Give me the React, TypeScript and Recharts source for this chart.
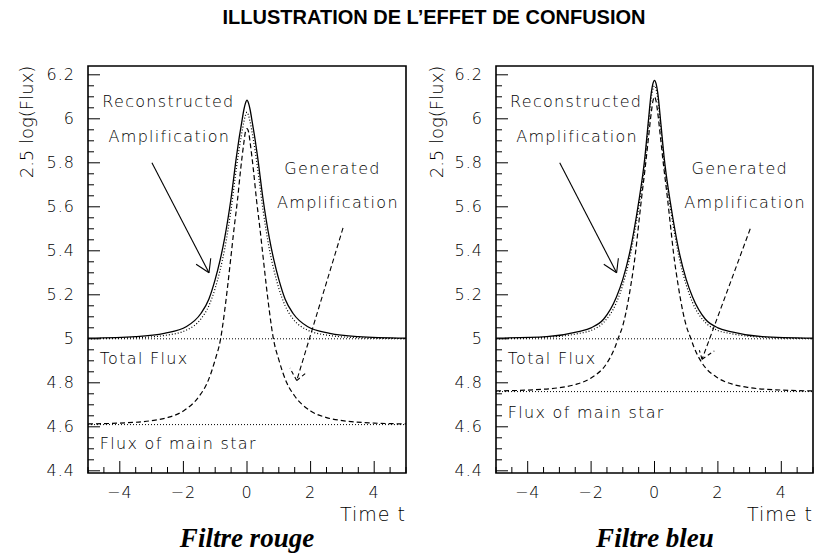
import React from 'react';
import { LineChart, Line, XAxis, YAxis, ReferenceLine, ReferenceDot, ReferenceArea } from 'recharts';

// ---------- texts ----------
const TITLE = 'ILLUSTRATION DE L’EFFET DE CONFUSION';
const Y_TITLE = '2.5 log(Flux)';
const X_TITLE = 'Time t';
const PANEL_NAMES = ['Filtre rouge', 'Filtre bleu'];
const LABEL_RECON = ['Reconstructed', 'Amplification'];
const LABEL_GEN = ['Generated', 'Amplification'];
const LABEL_TOTAL = 'Total Flux';
const LABEL_MAIN = 'Flux of main star';

// ---------- axes ----------
const X_DOMAIN = [-5, 5];
const Y_DOMAIN = [4.39, 6.24];
const X_MAJOR = [-4, -2, 0, 2, 4];
const X_MAJOR_LABELS = ['−4', '−2', '0', '2', '4'];
const X_MINOR_STEP = 0.5;
const Y_MAJOR = [4.4, 4.6, 4.8, 5, 5.2, 5.4, 5.6, 5.8, 6, 6.2];
const Y_MAJOR_LABELS = ['4.4', '4.6', '4.8', '5', '5.2', '5.4', '5.6', '5.8', '6', '6.2'];
const Y_MINOR_STEP = 0.05;

// ---------- red filter (half curves, symmetric in t) ----------
const RED_SOLID_T = [0, 0.05, 0.1, 0.17, 0.25, 0.33, 0.5, 0.7, 0.85, 1.0, 1.2, 1.45, 1.9, 2.6, 3.5, 5];
const RED_SOLID_V = [6.085, 6.07, 6.04, 5.98, 5.91, 5.83, 5.64, 5.46, 5.355, 5.27, 5.18, 5.115, 5.056, 5.025, 5.01, 5.003];
const RED_DOTTED_T = [0, 0.05, 0.1, 0.17, 0.25, 0.33, 0.5, 0.7, 0.85, 1.0, 1.2, 1.45, 1.9, 2.6, 3.5, 5];
const RED_DOTTED_V = [6.03, 6.015, 5.985, 5.93, 5.86, 5.78, 5.59, 5.41, 5.31, 5.23, 5.15, 5.09, 5.04, 5.015, 5.005, 5.001];
const RED_DASHED_T = [0, 0.05, 0.1, 0.2, 0.3, 0.4, 0.5, 0.6, 0.7, 0.83, 1.0, 1.25, 1.5, 2, 2.5, 3, 4, 5];
const RED_DASHED_V = [5.955, 5.94, 5.89, 5.77, 5.63, 5.51, 5.38, 5.25, 5.13, 5.0, 4.905, 4.8, 4.74, 4.672, 4.642, 4.628, 4.617, 4.613];
const RED_TOTAL_FLUX = 5.0;
const RED_MAIN_FLUX = 4.61;

// ---------- blue filter ----------
const BLUE_SOLID_T = [0, 0.05, 0.1, 0.2, 0.3, 0.5, 0.65, 0.8, 1.0, 1.2, 1.6, 2.0, 2.4, 3.4, 5];
const BLUE_SOLID_V = [6.175, 6.16, 6.12, 5.98, 5.83, 5.62, 5.49, 5.38, 5.27, 5.19, 5.09, 5.05, 5.033, 5.01, 5.003];
const BLUE_DOTTED_T = [0, 0.05, 0.1, 0.2, 0.3, 0.5, 0.65, 0.8, 1.0, 1.2, 1.6, 2.0, 2.4, 3.4, 5];
const BLUE_DOTTED_V = [6.15, 6.135, 6.095, 5.955, 5.805, 5.595, 5.465, 5.355, 5.245, 5.165, 5.075, 5.038, 5.024, 5.007, 5.001];
const BLUE_DASHED_T = [0, 0.05, 0.1, 0.2, 0.3, 0.4, 0.5, 0.6, 0.75, 0.9, 1.0, 1.15, 1.25, 1.5, 2, 2.5, 3, 4, 5];
const BLUE_DASHED_V = [6.1, 6.08, 6.03, 5.9, 5.77, 5.65, 5.52, 5.39, 5.24, 5.12, 5.06, 5.0, 4.96, 4.89, 4.822, 4.792, 4.778, 4.767, 4.763];
const BLUE_TOTAL_FLUX = 5.0;
const BLUE_MAIN_FLUX = 4.76;

// ---------- annotation anchors (data coordinates) ----------
const RECON_TEXT_POS = [{ t: -2.47, v: 6.081 }, { t: -2.44, v: 5.922 }];
const GEN_TEXT_POS = [{ t: 2.69, v: 5.776 }, { t: 2.86, v: 5.622 }];
const TOTAL_TEXT_POS = { t: -4.63, v: 4.913 };
const RED_MAIN_TEXT_POS = { t: -4.63, v: 4.526 };
const BLUE_MAIN_TEXT_POS = { t: -4.63, v: 4.667 };

const RECON_ARROW = [{ t: -2.99, v: 5.8 }, { t: -1.195, v: 5.3 }];
const RECON_HEAD = [{ t: -1.14, v: 5.366 }, { t: -1.6, v: 5.339 }];
const RED_GEN_ARROW = [{ t: 3.02, v: 5.504 }, { t: 1.563, v: 4.81 }];
const RED_GEN_HEAD = [{ t: 1.352, v: 4.867 }, { t: 1.855, v: 4.845 }];
const BLUE_GEN_ARROW = [{ t: 3.02, v: 5.5 }, { t: 1.5, v: 4.907 }];
const BLUE_GEN_HEAD = [{ t: 1.415, v: 4.948 }, { t: 1.887, v: 4.945 }];

// ---------- helpers ----------
function mirror(ts: number[], vs: number[]) {
  const pts: { t: number; v: number }[] = [];
  for (let i = ts.length - 1; i > 0; i--) pts.push({ t: -ts[i], v: vs[i] });
  for (let i = 0; i < ts.length; i++) pts.push({ t: ts[i], v: vs[i] });
  return pts;
}
function steps(from: number, to: number, step: number) {
  const out: number[] = [];
  const n = Math.round((to - from) / step);
  for (let i = 0; i <= n; i++) out.push(Math.round((from + i * step) * 1000) / 1000);
  return out;
}
const X_TICKS = steps(X_DOMAIN[0], X_DOMAIN[1], X_MINOR_STEP);
const Y_TICKS = steps(Y_MAJOR[0], Y_MAJOR[Y_MAJOR.length - 1], Y_MINOR_STEP);

const FONT = "'DejaVu Sans', sans-serif";
const FW = 200;
const CHART_H = 554;
const M_TOP = 66;
const PLOT_BOTTOM = 473;
const X_AXIS_H = 1;
const Y_AXIS_W = 1;

const DASH = '5 3';
const DOT = '1 2';

function makeXTick() {
  return (props: any) => {
    const { x, payload } = props;
    const v = payload.value;
    const idx = X_MAJOR.findIndex((m) => Math.abs(m - v) < 1e-6);
    const len = idx >= 0 ? 12 : 6;
    return (
      <g>
        <line x1={x} x2={x} y1={PLOT_BOTTOM} y2={PLOT_BOTTOM - len} stroke="#000" strokeWidth={1} />
        {idx >= 0 && (
          <text x={x} y={PLOT_BOTTOM + 19} textAnchor="middle" dominantBaseline="central"
            fontFamily={FONT} fontWeight={FW} fontSize={16} letterSpacing={1} fill="#000">
            {X_MAJOR_LABELS[idx]}
          </text>
        )}
      </g>
    );
  };
}
function makeYTick(plotLeft: number) {
  return (props: any) => {
    const { y, payload } = props;
    const v = payload.value;
    const idx = Y_MAJOR.findIndex((m) => Math.abs(m - v) < 1e-6);
    const len = idx >= 0 ? 12 : 6;
    return (
      <g>
        <line x1={plotLeft} x2={plotLeft + len} y1={y} y2={y} stroke="#000" strokeWidth={1} />
        {idx >= 0 && (
          <text x={plotLeft - 13} y={y} textAnchor="end" dominantBaseline="central"
            fontFamily={FONT} fontWeight={FW} fontSize={16} letterSpacing={1} fill="#000">
            {Y_MAJOR_LABELS[idx]}
          </text>
        )}
      </g>
    );
  };
}

const annotLabel = (value: string, position: string) => ({
  value,
  position,
  offset: 0,
  fontFamily: FONT,
  fontWeight: FW,
  fontSize: 16,
  letterSpacing: 1.3,
  fill: '#000',
});

type Pt = { t: number; v: number };
type PanelProps = {
  left: number;
  width: number;
  plotLeft: number;
  plotRight: number;
  solid: Pt[];
  dotted: Pt[];
  dashed: Pt[];
  totalFlux: number;
  mainFlux: number;
  mainTextPos: Pt;
  genArrow: Pt[];
  genHead: Pt[];
};

function Panel(p: PanelProps) {
  const seg = (a: Pt, b: Pt) => [
    { x: a.t, y: a.v },
    { x: b.t, y: b.v },
  ];
  return (
    <div style={{ position: 'absolute', left: p.left, top: 0 }}>
      <LineChart
        width={p.width}
        height={CHART_H}
        margin={{
          top: M_TOP,
          bottom: CHART_H - PLOT_BOTTOM - X_AXIS_H,
          left: p.plotLeft - Y_AXIS_W,
          right: p.width - p.plotRight,
        }}
      >
        <XAxis
          type="number"
          dataKey="t"
          domain={X_DOMAIN}
          ticks={X_TICKS}
          interval={0}
          allowDataOverflow
          height={X_AXIS_H}
          tickLine={false}
          axisLine={false}
          tickSize={0}
          tick={makeXTick()}
        />
        <YAxis
          type="number"
          dataKey="v"
          domain={Y_DOMAIN}
          ticks={Y_TICKS}
          interval={0}
          allowDataOverflow
          width={Y_AXIS_W}
          tickLine={false}
          axisLine={false}
          tickSize={0}
          tick={makeYTick(p.plotLeft)}
        />
        <ReferenceLine y={p.totalFlux} stroke="#000" strokeDasharray={DOT} strokeWidth={1} />
        <ReferenceLine y={p.mainFlux} stroke="#000" strokeDasharray={DOT} strokeWidth={1} />
        <Line data={p.dashed} dataKey="v" type="monotone" stroke="#000" strokeWidth={1.2} strokeDasharray={DASH} dot={false} isAnimationActive={false} />
        <Line data={p.dotted} dataKey="v" type="monotone" stroke="#000" strokeWidth={1.2} strokeDasharray={DOT} dot={false} isAnimationActive={false} />
        <Line data={p.solid} dataKey="v" type="monotone" stroke="#000" strokeWidth={1.3} dot={false} isAnimationActive={false} />

        <ReferenceLine segment={seg(RECON_ARROW[0], RECON_ARROW[1])} stroke="#000" strokeWidth={1.1} />
        <ReferenceLine segment={seg(RECON_ARROW[1], RECON_HEAD[0])} stroke="#000" strokeWidth={1.1} />
        <ReferenceLine segment={seg(RECON_ARROW[1], RECON_HEAD[1])} stroke="#000" strokeWidth={1.1} />
        <ReferenceLine segment={seg(p.genArrow[0], p.genArrow[1])} stroke="#000" strokeWidth={1.1} strokeDasharray={DASH} />
        <ReferenceLine segment={seg(p.genArrow[1], p.genHead[0])} stroke="#000" strokeWidth={1.1} strokeDasharray="4 3" />
        <ReferenceLine segment={seg(p.genArrow[1], p.genHead[1])} stroke="#000" strokeWidth={1.1} strokeDasharray="4 3" />

        <ReferenceDot x={RECON_TEXT_POS[0].t} y={RECON_TEXT_POS[0].v} r={0} fill="none" stroke="none" label={annotLabel(LABEL_RECON[0], 'center')} />
        <ReferenceDot x={RECON_TEXT_POS[1].t} y={RECON_TEXT_POS[1].v} r={0} fill="none" stroke="none" label={annotLabel(LABEL_RECON[1], 'center')} />
        <ReferenceDot x={GEN_TEXT_POS[0].t} y={GEN_TEXT_POS[0].v} r={0} fill="none" stroke="none" label={annotLabel(LABEL_GEN[0], 'center')} />
        <ReferenceDot x={GEN_TEXT_POS[1].t} y={GEN_TEXT_POS[1].v} r={0} fill="none" stroke="none" label={annotLabel(LABEL_GEN[1], 'center')} />
        <ReferenceDot x={TOTAL_TEXT_POS.t} y={TOTAL_TEXT_POS.v} r={0} fill="none" stroke="none" label={annotLabel(LABEL_TOTAL, 'right')} />
        <ReferenceDot x={p.mainTextPos.t} y={p.mainTextPos.v} r={0} fill="none" stroke="none" label={annotLabel(LABEL_MAIN, 'right')} />

        <ReferenceArea x1={X_DOMAIN[0]} x2={X_DOMAIN[1]} y1={Y_DOMAIN[0]} y2={Y_DOMAIN[1]} fill="none" stroke="#000" strokeWidth={1.6} />
      </LineChart>
    </div>
  );
}

const axisTitleStyle: React.CSSProperties = {
  position: 'absolute',
  fontFamily: FONT,
  fontWeight: FW,
  fontSize: 19,
  letterSpacing: 1,
  color: '#000',
  whiteSpace: 'nowrap',
  lineHeight: 1,
};

export default function App() {
  return (
    <div style={{ position: 'absolute', left: 0, top: 0, width: 814, height: 554, background: '#fff', overflow: 'hidden' }}>
      <div
        style={{
          position: 'absolute', left: 134, width: 600, top: 7, textAlign: 'center',
          fontFamily: "'Liberation Sans', Arial, sans-serif", fontWeight: 700, fontSize: 20, lineHeight: 1,
        }}
      >
        {TITLE}
      </div>

      <Panel
        left={0}
        width={410}
        plotLeft={88}
        plotRight={406}
        solid={mirror(RED_SOLID_T, RED_SOLID_V)}
        dotted={mirror(RED_DOTTED_T, RED_DOTTED_V)}
        dashed={mirror(RED_DASHED_T, RED_DASHED_V)}
        totalFlux={RED_TOTAL_FLUX}
        mainFlux={RED_MAIN_FLUX}
        mainTextPos={RED_MAIN_TEXT_POS}
        genArrow={RED_GEN_ARROW}
        genHead={RED_GEN_HEAD}
      />
      <Panel
        left={410}
        width={404}
        plotLeft={86}
        plotRight={403}
        solid={mirror(BLUE_SOLID_T, BLUE_SOLID_V)}
        dotted={mirror(BLUE_DOTTED_T, BLUE_DOTTED_V)}
        dashed={mirror(BLUE_DASHED_T, BLUE_DASHED_V)}
        totalFlux={BLUE_TOTAL_FLUX}
        mainFlux={BLUE_MAIN_FLUX}
        mainTextPos={BLUE_MAIN_TEXT_POS}
        genArrow={BLUE_GEN_ARROW}
        genHead={BLUE_GEN_HEAD}
      />

      <div style={{ ...axisTitleStyle, fontSize: 18, letterSpacing: 0, left: 27, top: 122, transform: 'translate(-50%, -50%) rotate(-90deg)' }}>{Y_TITLE}</div>
      <div style={{ ...axisTitleStyle, fontSize: 18, letterSpacing: 0, left: 437, top: 122, transform: 'translate(-50%, -50%) rotate(-90deg)' }}>{Y_TITLE}</div>

      <div style={{ ...axisTitleStyle, right: 814 - 406, top: 514, transform: 'translateY(-50%)' }}>{X_TITLE}</div>
      <div style={{ ...axisTitleStyle, right: 1, top: 514, transform: 'translateY(-50%)' }}>{X_TITLE}</div>

      {PANEL_NAMES.map((name, i) => (
        <div
          key={name}
          style={{
            position: 'absolute', left: i === 0 ? 247 : 655, top: 538, transform: 'translate(-50%, -50%)',
            fontFamily: "'Liberation Serif', 'Times New Roman', serif", fontWeight: 700, fontStyle: 'italic',
            fontSize: 27, lineHeight: 1, whiteSpace: 'nowrap',
          }}
        >
          {name}
        </div>
      ))}
    </div>
  );
}
